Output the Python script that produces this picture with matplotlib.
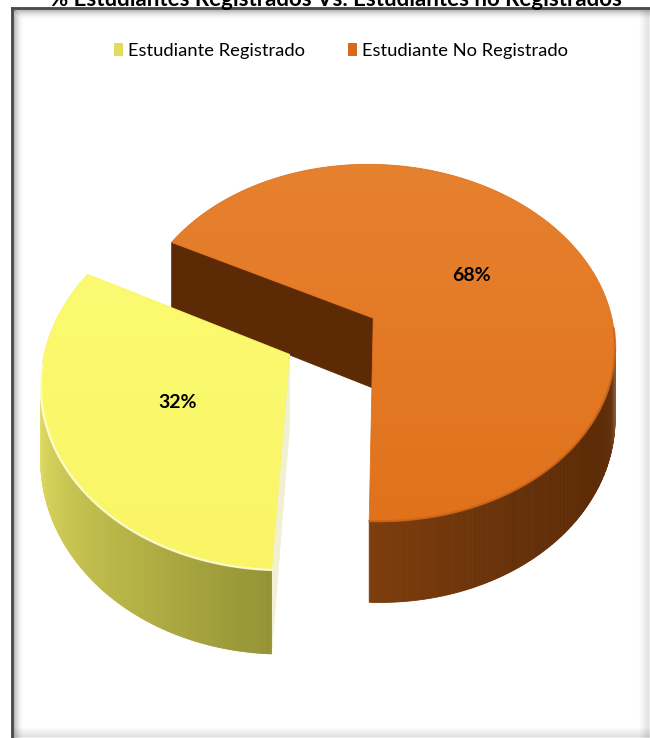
import numpy as np
import matplotlib.pyplot as plt
from matplotlib.patches import Polygon, Rectangle
from matplotlib.colors import to_rgb

# data
categorias = ['Estudiante Registrado', 'Estudiante No Registrado']
porcentajes = [32, 68]
etiquetas = ['32%', '68%']
titulo = '% Estudiantes Registrados Vs. Estudiantes no Registrados'

# colours: top face (light, dark), side gradient stops, radial wall
color_top = [('#FCFA70', '#F9F566'), ('#E6812F', '#E1721C')]
color_side = [
    ([180, 195, 215, 240, 268], ['#EEEEA8', '#DEDA62', '#C9C652', '#B2AF44', '#949334']),
    ([-93, -60, -35, -20, -8, 0],
     ['#7E3D0B', '#66310A', '#5C2A05', '#62300C', '#8A6040', '#B89C82']),
]
color_wall = ['#F1F0D2', '#5C2A05']
color_legend = ['#E2DC5C', '#D8681A']

FONT = ['Lato', 'DejaVu Sans']

# pseudo 3d projection (pixel space)
CX, CY = 332, 336
A, B, T, P = 242, 180, 71, 0.14
START = 267.8      # first slice edge (degrees, math convention), clockwise
EXPLODE = 0.2


def proj(x, y, z):
    s = 1.0 / (1.0 + P * y)
    return np.column_stack([CX + x * A * s, CY - (y * B + z * T) * s])


def area(pts):
    x, y = pts[:, 0], pts[:, 1]
    return 0.5 * np.sum(x * np.roll(y, -1) - np.roll(x, -1) * y)


def gradient_fill(ax, pts, c1, c2, zorder):
    poly = Polygon(pts, closed=True, facecolor='none', edgecolor='none')
    ax.add_patch(poly)
    x0, y0 = pts.min(axis=0)
    x1, y1 = pts.max(axis=0)
    g = np.linspace(0, 1, 64)[:, None, None]
    img = (1 - g) * np.array(to_rgb(c1)) + g * np.array(to_rgb(c2))
    img = np.repeat(img, 2, axis=1)
    im = ax.imshow(img, extent=(x0, x1, y1, y0), aspect='auto', zorder=zorder,
                   interpolation='bilinear')
    im.set_clip_path(poly)
    ax.add_patch(Polygon(pts, closed=True, facecolor='none', edgecolor=c2,
                         lw=0.6, zorder=zorder))


fig = plt.figure(figsize=(6.5, 7.38), dpi=100)
ax = fig.add_axes([0, 0, 1, 1])
ax.set_xlim(0, 650)
ax.set_ylim(738, 0)
ax.axis('off')

# chart frame: dark inset shadow on left/top, faint on right/bottom
L, TOP, R, BOT = 12, 8, 650, 738
for i in range(12):
    a = 0.30 * (1 - i / 12) ** 2
    ax.plot([L + i, L + i], [TOP + i, BOT], color='black', alpha=a, lw=1.1, zorder=1)
    ax.plot([L + i, R], [TOP + i, TOP + i], color='black', alpha=a, lw=1.1, zorder=1)
for i in range(10):
    a = 0.08 * (1 - i / 10)
    ax.plot([R - 1 - i, R - 1 - i], [TOP, BOT], color='black', alpha=a, lw=1.1, zorder=1)
    ax.plot([L, R], [BOT - 1 - i, BOT - 1 - i], color='black', alpha=a, lw=1.1, zorder=1)
ax.plot([L, L], [TOP, BOT], color='#4A4A4A', lw=2, zorder=1)
ax.plot([L, R], [TOP, TOP], color='#4A4A4A', lw=2, zorder=1)

# slice edges
bordes = []
a_hi = START
for p in porcentajes:
    a_lo = a_hi - p / 100 * 360
    bordes.append((a_lo, a_hi))
    a_hi = a_lo

orden = [1, 0]  # back slice first
for k in orden:
    t_lo, t_hi = bordes[k]
    mid = np.radians((t_lo + t_hi) / 2)
    ox, oy = EXPLODE * np.cos(mid), EXPLODE * np.sin(mid)
    th = np.radians(np.linspace(t_lo, t_hi, int(abs(t_hi - t_lo) * 2) + 2))
    xs, ys = ox + np.cos(th), oy + np.sin(th)
    top = proj(xs, ys, 0)
    bot = proj(xs, ys, -1)
    apex_t = proj(np.array([ox]), np.array([oy]), 0)[0]
    apex_b = proj(np.array([ox]), np.array([oy]), -1)[0]
    z = 2 + orden.index(k) * 10

    # radial walls
    walls = [np.array([apex_t, top[0], bot[0], apex_b]),
             np.array([top[-1], apex_t, apex_b, bot[-1]])]
    for w in walls:
        if area(w) > 0:
            ax.add_patch(Polygon(w, closed=True, facecolor=color_wall[k],
                                 edgecolor=color_wall[k], lw=0.5, zorder=z))

    # outer side, shaded by angle
    angs, cols = color_side[k]
    rgbs = np.array([to_rgb(c) for c in cols])
    degs = np.degrees(th)
    for i in range(len(th) - 1):
        q = np.array([top[i], top[i + 1], bot[i + 1], bot[i]])
        if area(q) <= 0:
            continue
        d = (degs[i] + degs[i + 1]) / 2
        c = [np.interp(d, angs, rgbs[:, j]) for j in range(3)]
        ax.add_patch(Polygon(q, closed=True, facecolor=c, edgecolor=c,
                             lw=0.6, zorder=z + 1))

    # top face
    face = np.vstack([apex_t, top])
    gradient_fill(ax, face, color_top[k][0], color_top[k][1], z + 2)

    # bevel highlight along the front rim
    front = np.sin(th) < -0.05
    hl = '#FFFFE8' if k == 0 else '#C86418'
    ax.plot(top[front, 0], top[front, 1], color=hl, lw=1.6, alpha=0.8,
            solid_capstyle='round', zorder=z + 3)

    # percentage label
    lx, ly = ox + 0.5 * np.cos(mid), oy + 0.5 * np.sin(mid)
    lp = proj(np.array([lx]), np.array([ly]), 0)[0]
    ax.text(lp[0], lp[1], etiquetas[k], ha='center', va='center',
            fontsize=14, fontweight='bold', family=FONT, color='black',
            zorder=z + 4)

# title (clipped at the top edge like the original)
ax.text(336, 6, titulo, ha='center', va='baseline', fontsize=16,
        fontweight='bold', family=FONT, color='black', zorder=30)

# legend
handles = [Rectangle((0, 0), 1, 1, facecolor=c, edgecolor='none')
           for c in color_legend]
fig.legend(handles, categorias, loc='center', bbox_to_anchor=(341 / 650, 1 - 51 / 738),
           ncol=2, frameon=False, handlelength=0.5, handleheight=0.75,
           handletextpad=0.3, columnspacing=2.3,
           prop={'family': FONT, 'size': 13.2})

fig.savefig('out.png', dpi=100)
